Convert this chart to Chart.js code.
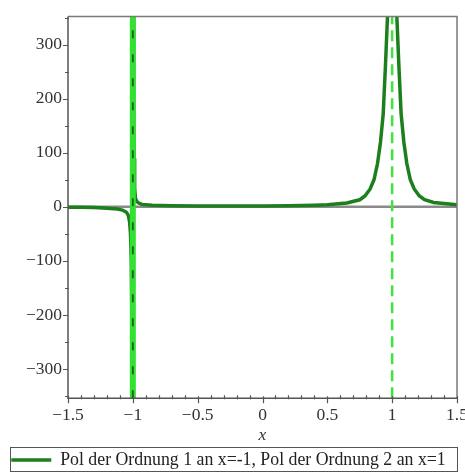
<!DOCTYPE html>
<html>
<head>
<meta charset="utf-8">
<script src="https://cdn.jsdelivr.net/npm/chart.js@4.4.1/dist/chart.umd.min.js"></script>
<style>
  html, body { margin: 0; padding: 0; background: #fff; }
  #wrap { width: 465px; height: 473px; }
</style>
</head>
<body>
<div id="wrap"><canvas id="polChart"></canvas></div>
<script>
// Kurve links vom Pol bei x=-1
const leftX = [-1.5, -1.4, -1.3, -1.2, -1.12, -1.08, -1.05, -1.035, -1.025, -1.018, -1.012, -1.007, -1.005];
const leftY = [-1, -1, -1.5, -2.5, -4, -6, -10, -16, -28, -50, -100, -220, -354];
// zwischen den beiden Polen
const midX = [-0.996, -0.993, -0.99, -0.986, -0.98, -0.97, -0.955, -0.93, -0.85, -0.7, -0.5, -0.2, 0, 0.2, 0.4, 0.5, 0.65, 0.75, 0.79, 0.83, 0.86, 0.887, 0.91, 0.931, 0.948, 0.964];
const midY = [352, 200, 90, 35, 16, 10, 7, 4.5, 3, 2, 1.5, 1.5, 1.5, 2, 3, 4, 7, 13, 20, 33, 50, 80, 120, 172, 260, 352];
// rechts vom Pol bei x=1
const rightX = [1.036, 1.052, 1.069, 1.09, 1.113, 1.14, 1.17, 1.21, 1.25, 1.32, 1.4, 1.5];
const rightY = [352, 260, 172, 120, 80, 50, 33, 20, 13, 8, 6, 4];

// Polstellen (Asymptoten)
const poleX = [-1, 1];

// Achsen
const xMin = -1.5, xMax = 1.5;
const yMin = -354, yMax = 352;
const xMajor = [-1.5, -1, -0.5, 0, 0.5, 1, 1.5];
const xMinor = [-1.4, -1.3, -1.2, -1.1, -0.9, -0.8, -0.7, -0.6, -0.4, -0.3, -0.2, -0.1,
                0.1, 0.2, 0.3, 0.4, 0.6, 0.7, 0.8, 0.9, 1.1, 1.2, 1.3, 1.4];
const yMajor = [-300, -200, -100, 0, 100, 200, 300];
const yMinor = [-350, -250, -150, -50, 50, 150, 250, 350];

const legendText = "Pol der Ordnung 1 an x=-1, Pol der Ordnung 2 an x=1";

// Punkte bauen, Lücken mit null
function pts(xs, ys) {
  return xs.map((x, i) => ({ x: x, y: ys[i] }));
}
const curve = pts(leftX, leftY)
  .concat([{ x: -1, y: null }])
  .concat(pts(midX, midY))
  .concat([{ x: 1, y: null }])
  .concat(pts(rightX, rightY));

function fmt(v) {
  return v < 0 ? "\u2212" + Math.abs(v) : String(v);
}

Chart.defaults.font.family = '"Liberation Serif", "Times New Roman", serif';
Chart.defaults.color = "#333";

// Achsenstriche, Rahmen und Legendenkasten selbst zeichnen
const rahmenPlugin = {
  id: "rahmen",
  afterDraw(chart) {
    const ctx = chart.ctx;
    const a = chart.chartArea;
    const sx = chart.scales.x, sy = chart.scales.y;
    ctx.save();
    // oben und rechts
    ctx.strokeStyle = "#7a7a7a";
    ctx.lineWidth = 1.5;
    ctx.beginPath();
    ctx.moveTo(a.left, a.top);
    ctx.lineTo(a.right, a.top);
    ctx.lineTo(a.right, a.bottom);
    ctx.stroke();
    // links und unten
    ctx.strokeStyle = "#555";
    ctx.beginPath();
    ctx.moveTo(a.left, a.top);
    ctx.lineTo(a.left, a.bottom);
    ctx.lineTo(a.right, a.bottom);
    ctx.stroke();
    ctx.lineWidth = 1.2;
    ctx.beginPath();
    yMajor.forEach(v => {
      const p = Math.round(sy.getPixelForValue(v)) + 0.5;
      ctx.moveTo(a.left - 5, p); ctx.lineTo(a.left, p);
    });
    yMinor.forEach(v => {
      const p = Math.round(sy.getPixelForValue(v)) + 0.5;
      ctx.moveTo(a.left - 3, p); ctx.lineTo(a.left + 1, p);
    });
    xMajor.forEach(v => {
      const p = Math.round(sx.getPixelForValue(v)) + 0.5;
      ctx.moveTo(p, a.bottom - 2); ctx.lineTo(p, a.bottom + 5);
    });
    xMinor.forEach(v => {
      const p = Math.round(sx.getPixelForValue(v)) + 0.5;
      ctx.moveTo(p, a.bottom - 3); ctx.lineTo(p, a.bottom + 1);
    });
    ctx.stroke();
    // Kasten um die Legende
    const hb = chart.legend.legendHitBoxes[0];
    if (hb) {
      ctx.strokeStyle = "#555";
      ctx.lineWidth = 1;
      ctx.strokeRect(Math.round(hb.left - 1) + 0.5, Math.round(hb.top - 4.5) + 0.5,
                     Math.round(hb.width + 13), 24);
    }
    ctx.restore();
  }
};

const ctx = document.getElementById("polChart").getContext("2d");
const myChart = new Chart(ctx, {
  type: "scatter",
  data: {
    datasets: [
      {
        label: legendText,
        data: curve,
        showLine: true,
        spanGaps: false,
        borderColor: "#1b7f1b",
        borderWidth: 3.5,
        pointRadius: 0,
        pointBorderWidth: 3.5,
        pointBorderColor: "#1b7f1b",
        tension: 0,
        order: 4
      },
      {
        label: "",
        data: [{ x: xMin, y: 0 }, { x: xMax, y: 0 }],
        showLine: true,
        borderColor: "#8a8a8a",
        borderWidth: 2.5,
        pointRadius: 0,
        order: 5
      },
      {
        label: "",
        data: [{ x: poleX[1], y: yMin }, { x: poleX[1], y: yMax }],
        showLine: true,
        borderColor: "#3fe53f",
        borderWidth: 2.5,
        borderDash: [11, 6],
        pointRadius: 0,
        order: 3
      },
      {
        label: "",
        data: [{ x: poleX[0], y: yMin }, { x: poleX[0], y: yMax }],
        showLine: true,
        borderColor: "#33e133",
        borderWidth: 6,
        pointRadius: 0,
        order: 2
      },
      {
        label: "",
        data: [{ x: poleX[0], y: yMin }, { x: poleX[0], y: yMax }],
        showLine: true,
        borderColor: "#1d5f1d",
        borderWidth: 1.8,
        borderDash: [8, 16],
        pointRadius: 0,
        order: 1
      }
    ]
  },
  options: {
    responsive: true,
    maintainAspectRatio: false,
    animation: false,
    layout: { padding: { top: 15, right: 8, left: 0, bottom: -6 } },
    plugins: {
      tooltip: { enabled: false },
      legend: {
        position: "bottom",
        labels: {
          filter: item => item.text !== "",
          usePointStyle: true,
          pointStyle: "line",
          pointStyleWidth: 40,
          padding: 5,
          color: "#222",
          font: { size: 17.8 }
        }
      }
    },
    scales: {
      x: {
        type: "linear",
        min: xMin,
        max: xMax,
        afterBuildTicks: s => { s.ticks = xMajor.map(v => ({ value: v })); },
        afterFit: s => { s.height = 48; s.paddingLeft = 0; s.paddingRight = 0; },
        grid: { display: false, drawTicks: false },
        border: { display: false },
        ticks: { callback: v => fmt(v), padding: 7, maxRotation: 0, font: { size: 17.5 }, color: "#333" },
        title: { display: true, text: "x", padding: { top: 5, bottom: 0 }, font: { size: 17.5, style: "italic" }, color: "#333" }
      },
      y: {
        type: "linear",
        min: yMin,
        max: yMax,
        afterBuildTicks: s => { s.ticks = yMajor.map(v => ({ value: v })); },
        afterFit: s => { s.width = 68; },
        grid: { display: false, drawTicks: false },
        border: { display: false },
        ticks: { callback: v => fmt(v), padding: 6, font: { size: 17.5 }, color: "#333" }
      }
    }
  },
  plugins: [rahmenPlugin]
});
</script>
</body>
</html>
